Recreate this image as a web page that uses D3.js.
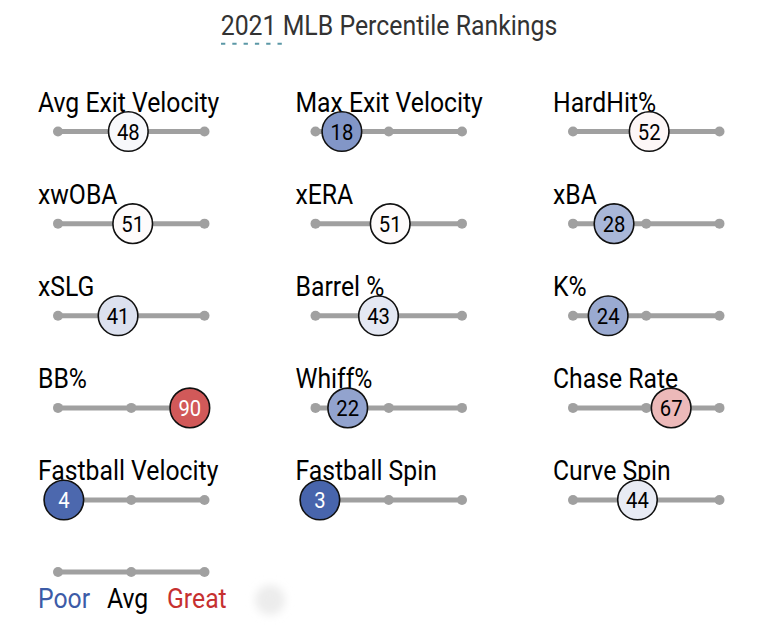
<!DOCTYPE html>
<html>
<head>
<meta charset="utf-8">
<script src="https://cdn.jsdelivr.net/npm/d3@7"></script>
<style>
  html, body { margin: 0; padding: 0; background: #fff; }
  svg { display: block; font-family: Roboto, "Noto Sans", sans-serif; }
</style>
</head>
<body>
<svg id="chart" width="770" height="627"></svg>
<script>
const title = "2021 MLB Percentile Rankings";
const metrics = ["Avg Exit Velocity", "Max Exit Velocity", "HardHit%",
                 "xwOBA", "xERA", "xBA",
                 "xSLG", "Barrel %", "K%",
                 "BB%", "Whiff%", "Chase Rate",
                 "Fastball Velocity", "Fastball Spin", "Curve Spin"];
const percentiles = [48, 18, 52,
                     51, 51, 28,
                     41, 43, 24,
                     90, 22, 67,
                     4, 3, 44];
const trackStops = [0, 50, 100];
const legendLabels = ["Poor", "Avg", "Great"];

const svg = d3.select("#chart");
const NCOL = 3;
const SX = 0.9; // condensed look

const colScale = d3.scaleLinear().domain([0, NCOL - 1]).range([58, 573]);
const rowScale = d3.scaleLinear().domain([0, 4]).range([131.5, 500]);
const trackW = 146.5;
const color = d3.scaleLinear().domain([0, 50, 100])
  .range(["#3c5ba7", "#ffffff", "#c63030"]).interpolate(d3.interpolateRgb);

// Title
const tg = svg.append("g").attr("transform", "translate(389,35)");
tg.append("text")
  .attr("text-anchor", "middle")
  .attr("transform", `scale(${SX},1)`)
  .attr("font-size", 27.6)
  .attr("fill", "#333")
  .text(title);
svg.append("line")
  .attr("x1", 221).attr("x2", 284).attr("y1", 43.7).attr("y2", 43.7)
  .attr("stroke", "#5b98a6").attr("stroke-width", 2)
  .attr("stroke-dasharray", "4.3 7");

function drawTrack(g, x) {
  g.append("line")
    .attr("x1", x(0)).attr("x2", x(100)).attr("y1", 0).attr("y2", 0)
    .attr("stroke", "#a0a0a0").attr("stroke-width", 5);
  g.selectAll("circle.stop").data(trackStops).join("circle")
    .attr("class", "stop")
    .attr("cx", d => x(d)).attr("cy", 0).attr("r", 5)
    .attr("fill", "#a0a0a0");
}

const data = metrics.map((m, i) => ({ m, v: percentiles[i], col: i % NCOL, row: Math.floor(i / NCOL) }));

data.forEach(d => {
  const x0 = colScale(d.col);
  const x = d3.scaleLinear().domain([0, 100]).range([x0, x0 + trackW]);
  const y = rowScale(d.row);
  const g = svg.append("g").attr("transform", `translate(0,${y})`);
  // label
  g.append("g").attr("transform", `translate(${x0 - 20},-20)`)
    .append("text")
    .attr("transform", `scale(${SX},1)`)
    .attr("font-size", 27.5)
    .attr("fill", "#000")
    .text(d.m);
  drawTrack(g, x);
  g.append("circle")
    .attr("cx", x(d.v)).attr("cy", 0).attr("r", 19.8)
    .attr("fill", color(d.v))
    .attr("stroke", "#111").attr("stroke-width", 1.6);
  g.append("g").attr("transform", `translate(${x(d.v)},0)`)
    .append("text")
    .attr("transform", `scale(${SX},1)`)
    .attr("text-anchor", "middle")
    .attr("dy", "0.36em")
    .attr("font-size", 22.5)
    .attr("fill", (d.v < 12 || d.v > 85) ? "#fff" : "#000")
    .text(d.v);
});

// Legend
const lx0 = colScale(0);
const lx = d3.scaleLinear().domain([0, 100]).range([lx0, lx0 + trackW]);
const lg = svg.append("g").attr("transform", "translate(0,572)");
drawTrack(lg, lx);
const legendColors = [color(0), "#000", color(100)];
const legendX = [38, 107, 167];
legendLabels.forEach((t, i) => {
  svg.append("g").attr("transform", `translate(${legendX[i]},608)`)
    .append("text")
    .attr("transform", `scale(${SX},1)`)
    .attr("font-size", 27.5)
    .attr("fill", legendColors[i])
    .text(t);
});

// faint ghost dot
const defs = svg.append("defs");
defs.append("filter").attr("id", "blur").attr("x", "-50%").attr("y", "-50%").attr("width", "200%").attr("height", "200%")
  .append("feGaussianBlur").attr("stdDeviation", 4);
svg.append("circle").attr("cx", 270).attr("cy", 600).attr("r", 15)
  .attr("fill", "#ececec").attr("filter", "url(#blur)");
</script>
</body>
</html>
